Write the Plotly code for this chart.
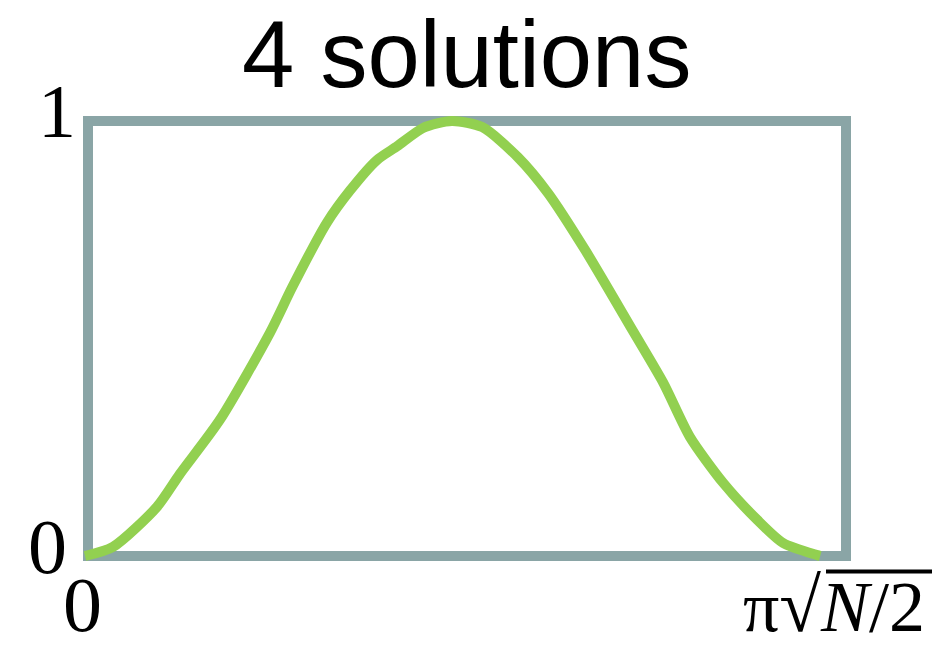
import plotly.graph_objects as go

# Curve samples (x in units of pi*sqrt(N/2), y = success probability)
t_vals = [-0.004, 0.033, 0.091, 0.121, 0.174, 0.240, 0.270, 0.315, 0.346, 0.381,
          0.408, 0.442, 0.480, 0.520, 0.567, 0.607, 0.656, 0.718, 0.759, 0.794,
          0.838, 0.883, 0.917, 0.962, 0.966]
p_vals = [0.0, 0.021, 0.113, 0.188, 0.313, 0.513, 0.620, 0.766, 0.841, 0.910,
          0.942, 0.984, 1.0, 0.986, 0.917, 0.834, 0.703, 0.520, 0.398, 0.274,
          0.168, 0.083, 0.030, 0.002, 0.0]

title_text = "4 solutions"
y_tick_labels = ["0", "1"]
x_tick_labels = ["0", "π<span style='font-size:76px'>√</span><i>N</i>/2"]

W, H = 932, 649
L, R, T, B = 40, 40, 80, 50
pw, ph = W - L - R, H - T - B
# pixel positions of data 0 and 1 on each axis
X0, X1 = 88, 846
Y0, Y1 = 556, 121
ux = (X1 - X0)
uy = (Y0 - Y1)
xr = [-(X0 - L) / ux, 1 + (W - R - X1) / ux]
yr = [-(H - B - Y0) / uy, 1 + (Y1 - T) / uy]


def px(x):
    return (x - L) / pw


def py(y):
    return (H - B - y) / ph


green = "#92D050"
frame = "#8AA5A6"

fig = go.Figure()
fig.add_trace(go.Scatter(x=t_vals, y=p_vals, mode="lines",
                         line=dict(color=green, width=10, shape="spline", smoothing=0.7),
                         hoverinfo="skip"))

fig.add_shape(type="rect", xref="x", yref="y", x0=0, x1=1, y0=0, y1=1,
              line=dict(color=frame, width=10), layer="below")

serif = "Liberation Serif"
ann = []
ann.append(dict(text=title_text, x=px(466.5), y=py(54.5), xref="paper", yref="paper",
                xanchor="center", yanchor="middle", showarrow=False,
                font=dict(family="Liberation Sans", size=94, color="black")))
ann.append(dict(text=y_tick_labels[1], x=px(57), y=py(111), xref="paper", yref="paper",
                xanchor="center", yanchor="middle", showarrow=False,
                font=dict(family=serif, size=76, color="black")))
ann.append(dict(text=y_tick_labels[0], x=px(47.5), y=py(546.7), xref="paper", yref="paper",
                xanchor="center", yanchor="middle", showarrow=False,
                font=dict(family=serif, size=78, color="black")))
ann.append(dict(text=x_tick_labels[0], x=px(82.5), y=py(604), xref="paper", yref="paper",
                xanchor="center", yanchor="middle", showarrow=False,
                font=dict(family=serif, size=78, color="black")))
ann.append(dict(text=x_tick_labels[1], x=px(927), y=py(648.5), xref="paper", yref="paper",
                xanchor="right", yanchor="bottom", showarrow=False,
                font=dict(family=serif, size=72, color="black")))

# overline of the square root
fig.add_shape(type="line", xref="paper", yref="paper",
              x0=px(826), x1=px(940), y0=py(571.5), y1=py(571.5),
              line=dict(color="black", width=4))

fig.update_layout(
    width=W, height=H,
    margin=dict(l=L, r=R, t=T, b=B, pad=0),
    paper_bgcolor="white", plot_bgcolor="white",
    showlegend=False,
    annotations=ann,
    xaxis=dict(range=xr, visible=False, fixedrange=True),
    yaxis=dict(range=yr, visible=False, fixedrange=True),
)

fig.write_html("out.html", config={"displayModeBar": False},
               post_script="document.body.style.margin='0px';document.body.style.overflow='hidden';")
